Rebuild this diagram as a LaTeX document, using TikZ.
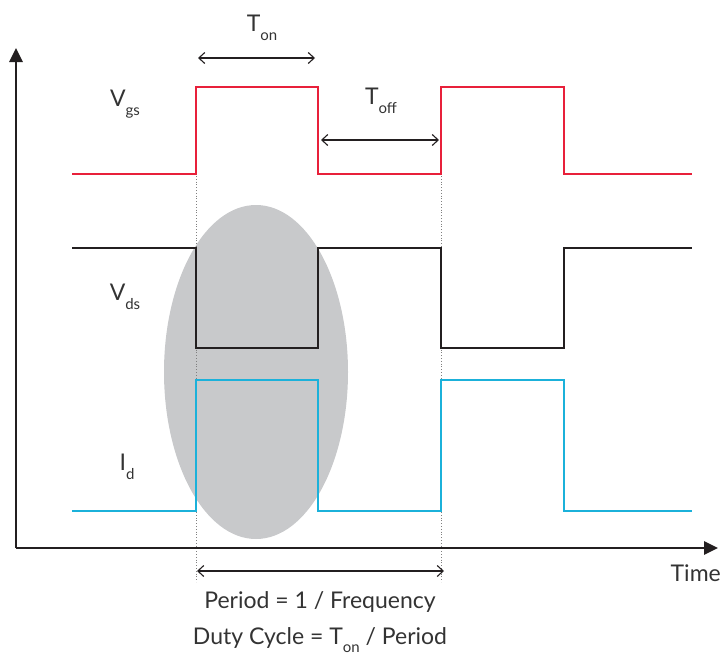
\documentclass[tikz,border=0pt]{standalone}
\usepackage{fontspec}
\setmainfont{Lato}
\usetikzlibrary{arrows.meta}
\definecolor{sigred}{HTML}{E8203A}
\definecolor{sigblue}{HTML}{1BB1DA}
\definecolor{sigblack}{HTML}{231F20}
\definecolor{ellgrey}{HTML}{C8C9CB}
\definecolor{txtgrey}{HTML}{333333}
\newcommand{\sbs}[1]{\raisebox{-0.75ex}{\fontsize{15}{15}\selectfont #1}}
\begin{document}
\begin{tikzpicture}[x=1pt,y=-1pt,
  wave/.style={line width=2.8pt,line join=miter},
  axisline/.style={line width=2.8pt,sigblack,-{Triangle[length=14pt,width=13pt]}},
  dimarrow/.style={line width=1.1pt,sigblack,{Straight Barb[length=6pt,width=11pt]}-{Straight Barb[length=6pt,width=11pt]}},
  guide/.style={gray,line width=0.8pt,dotted},
  lbl/.style={text=txtgrey,font=\fontsize{23}{25}\selectfont,inner sep=0pt}]
\useasboundingbox (0,0) rectangle (723,659);
% ellipse
\fill[ellgrey] (256,372) ellipse [x radius=92, y radius=167];
% guides
\coordinate (g1t) at (196,176); \coordinate (g1b) at (196,582);
\coordinate (g2t) at (441,176); \coordinate (g2b) at (441,582);
\draw[guide] (g1t) -- (g1b);
\draw[guide] (g2t) -- (g2b);
% axes
\coordinate (o) at (16,548);
\coordinate (ytop) at (16,48);
\coordinate (xend) at (718,548);
\draw[axisline] (o) -- (ytop);
\draw[axisline] (o) -- (xend);
% waves
\draw[wave,sigred] (72,174) -- (196,174) -- (196,87) -- (318,87) -- (318,174) -- (441,174) -- (441,87) -- (564,87) -- (564,174) -- (692,174);
\draw[wave,sigblack] (72,248) -- (196,248) -- (196,348) -- (318,348) -- (318,248) -- (441,248) -- (441,348) -- (564,348) -- (564,248) -- (692,248);
\draw[wave,sigblue] (72,511) -- (196,511) -- (196,380) -- (318,380) -- (318,511) -- (441,511) -- (441,380) -- (564,380) -- (564,511) -- (692,511);
% dimension arrows
\coordinate (ton1) at (198,58); \coordinate (ton2) at (315,58);
\draw[dimarrow] (ton1) -- (ton2);
\coordinate (toff1) at (321,140); \coordinate (toff2) at (439,140);
\draw[dimarrow] (toff1) -- (toff2);
\coordinate (p1) at (197,571); \coordinate (p2) at (444,571);
\draw[dimarrow] (p1) -- (p2);
% labels
\node[lbl] (ton) at (262,28) {T\sbs{on}};
\node[lbl] (toff) at (381,101) {T\sbs{off}};
\node[lbl] (vgs) at (125,104) {V\sbs{gs}};
\node[lbl] (vds) at (125,297) {V\sbs{ds}};
\node[lbl] (id) at (127,467) {I\sbs{d}};
\node[lbl,anchor=east] (time) at (721,573) {Time};
\node[lbl] (period) at (320,602) {Period = 1 / Frequency};
\node[lbl] (duty) at (320,640) {Duty Cycle = T\sbs{on} / Period};
\end{tikzpicture}
\end{document}
